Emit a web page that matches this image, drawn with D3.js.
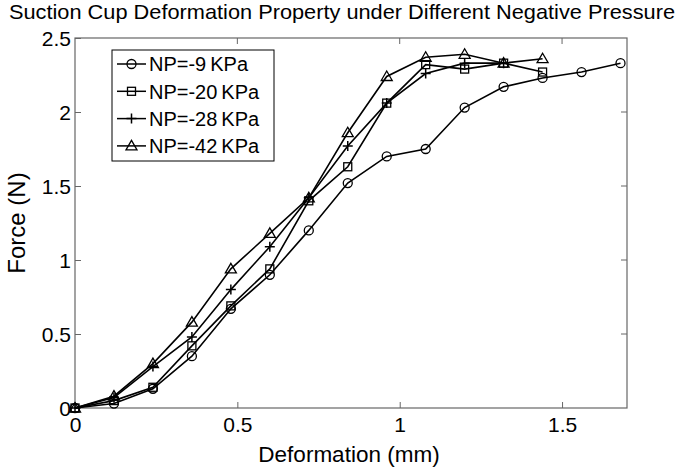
<!DOCTYPE html>
<html>
<head>
<meta charset="utf-8">
<script src="https://cdn.jsdelivr.net/npm/d3@7"></script>
<style>
  body { margin: 0; background: #fff; }
  text { font-family: "Liberation Sans", Arial, sans-serif; fill: #000; }
</style>
</head>
<body>
<div class="chart"></div>
<script>
// size + margins
var width = 680;
var height = 470;
var margin = {top: 38, right: 53, bottom: 60, left: 75};

// data
var deform = [0, 0.12, 0.24, 0.36, 0.48, 0.60, 0.72, 0.84, 0.96, 1.08, 1.20, 1.32, 1.44, 1.56, 1.68];
var np9  = [0, 0.03, 0.13, 0.35, 0.67, 0.90, 1.20, 1.52, 1.70, 1.75, 2.03, 2.17, 2.23, 2.27, 2.33];
var np20 = [0, 0.05, 0.14, 0.42, 0.69, 0.94, 1.40, 1.63, 2.06, 2.32, 2.29, 2.33, 2.27];
var np28 = [0, 0.07, 0.28, 0.48, 0.80, 1.09, 1.42, 1.77, 2.06, 2.26, 2.33, 2.33];
var np42 = [0, 0.08, 0.30, 0.58, 0.94, 1.18, 1.42, 1.86, 2.24, 2.37, 2.39, 2.33, 2.36];

var seriesNames = ["NP=-9\u2009KPa", "NP=-20\u2009KPa", "NP=-28\u2009KPa", "NP=-42\u2009KPa"];
var seriesVals = [np9, np20, np28, np42];
var markers = ["circle", "square", "plus", "triangle"];

var xTicks = [0, 0.5, 1, 1.5];
var yTicks = [0, 0.5, 1, 1.5, 2, 2.5];

var svg = d3.select(".chart")
            .append("svg")
            .attr("width", width)
            .attr("height", height);

var xScale = d3.scaleLinear()
               .domain([0, 1.7])
               .range([margin.left, width - margin.right]);
var yScale = d3.scaleLinear()
               .domain([0, 2.5])
               .range([height - margin.bottom - 2, margin.top]);

var axisCol = "#666";

// frame
svg.append("rect")
   .attr("x", xScale(0))
   .attr("y", yScale(2.5))
   .attr("width", xScale(1.7) - xScale(0))
   .attr("height", yScale(0) - yScale(2.5))
   .attr("fill", "none")
   .attr("stroke", axisCol)
   .attr("stroke-width", 1.2);

// axes, ticks pointing in
var xAxis = d3.axisBottom(xScale).tickValues(xTicks).tickSizeInner(-6).tickSizeOuter(0).tickPadding(9)
              .tickFormat(d3.format("~g"));
var yAxis = d3.axisLeft(yScale).tickValues(yTicks).tickSizeInner(-6).tickSizeOuter(0).tickPadding(9)
              .tickFormat(d3.format("~g"));

var gx = svg.append("g")
   .attr("transform", "translate(0," + yScale(0) + ")")
   .call(xAxis);
var gy = svg.append("g")
   .attr("transform", "translate(" + xScale(0) + ",0)")
   .call(yAxis);
[gx, gy].forEach(function(g) {
  g.select(".domain").remove();
  g.selectAll(".tick line").attr("stroke", axisCol);
  g.selectAll(".tick text").style("font-size", "21px").attr("fill", "#000");
});
gx.selectAll(".tick text").attr("dy", "0.71em");
gy.selectAll(".tick text").attr("dy", "0.36em").attr("x", -4);

// top + right ticks
svg.append("g").selectAll("line")
   .data(xTicks.filter(d => d > 0))
   .enter().append("line")
   .attr("x1", d => xScale(d)).attr("x2", d => xScale(d))
   .attr("y1", yScale(2.5)).attr("y2", yScale(2.5) + 6)
   .attr("stroke", axisCol);
svg.append("g").selectAll("line")
   .data(yTicks.filter(d => d > 0 && d < 2.5))
   .enter().append("line")
   .attr("x1", xScale(1.7)).attr("x2", xScale(1.7) - 6)
   .attr("y1", d => yScale(d)).attr("y2", d => yScale(d))
   .attr("stroke", axisCol);

// marker drawing
function drawMarker(g, type, x, y) {
  if (type == "circle") {
    g.append("circle").attr("cx", x).attr("cy", y).attr("r", 4.5)
     .attr("fill", "none").attr("stroke", "#000").attr("stroke-width", 1.3);
  } else if (type == "square") {
    g.append("rect").attr("x", x - 4).attr("y", y - 4).attr("width", 8).attr("height", 8)
     .attr("fill", "none").attr("stroke", "#000").attr("stroke-width", 1.3);
  } else if (type == "plus") {
    g.append("path").attr("d", "M" + (x - 5) + "," + y + "H" + (x + 5) + "M" + x + "," + (y - 5) + "V" + (y + 5))
     .attr("stroke", "#000").attr("stroke-width", 1.5);
  } else {
    g.append("path").attr("d", "M" + x + "," + (y - 5.5) + "L" + (x + 5.5) + "," + (y + 4) + "L" + (x - 5.5) + "," + (y + 4) + "Z")
     .attr("fill", "none").attr("stroke", "#000").attr("stroke-width", 1.3);
  }
}

var line = d3.line()
             .x((d, i) => xScale(deform[i]))
             .y(d => yScale(d));

seriesVals.forEach(function(vals, s) {
  svg.append("path")
     .datum(vals)
     .attr("d", line)
     .attr("fill", "none")
     .attr("stroke", "#000")
     .attr("stroke-width", 1.6);
  var mg = svg.append("g");
  vals.forEach(function(v, i) {
    drawMarker(mg, markers[s], xScale(deform[i]), yScale(v));
  });
});

// legend
var lg = svg.append("g");
lg.append("rect")
  .attr("x", 112).attr("y", 50).attr("width", 162).attr("height", 111)
  .attr("fill", "#fff").attr("stroke", "#000").attr("stroke-width", 1);
seriesNames.forEach(function(name, i) {
  var yy = 64 + i * 27.3;
  lg.append("line").attr("x1", 117).attr("x2", 146).attr("y1", yy).attr("y2", yy)
    .attr("stroke", "#000").attr("stroke-width", 1.5);
  drawMarker(lg, markers[i], 131.5, yy);
  lg.append("text").attr("x", 149).attr("y", yy).attr("dy", "0.36em")
    .style("font-size", "20px").text(name);
});

// titles
svg.append("text")
   .attr("x", (xScale(0) + xScale(1.7)) / 2 - 9)
   .attr("y", 19)
   .attr("text-anchor", "middle")
   .attr("textLength", 666)
   .attr("lengthAdjust", "spacingAndGlyphs")
   .style("font-size", "21px")
   .text("Suction Cup Deformation Property under Different Negative Pressure");

svg.append("text")
   .attr("x", 349)
   .attr("y", 462)
   .attr("text-anchor", "middle")
   .style("font-size", "22.5px")
   .text("Deformation (mm)");

svg.append("text")
   .attr("transform", "translate(25," + (yScale(1.25)) + ") rotate(-90)")
   .attr("text-anchor", "middle")
   .style("font-size", "24px")
   .text("Force (N)");
</script>
</body>
</html>
